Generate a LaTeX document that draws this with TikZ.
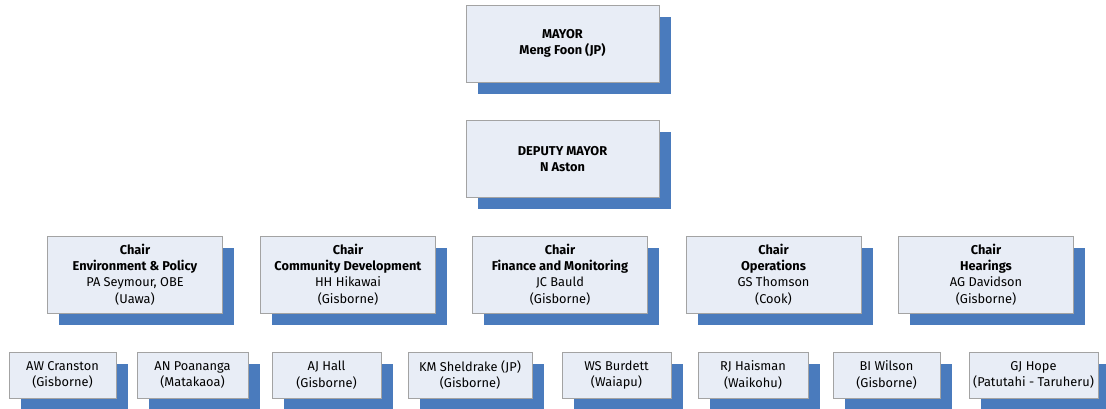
\documentclass[tikz,border=0pt]{standalone}
\usepackage{fontspec}
\setmainfont{Fira Sans}
\usepackage{xcolor}
\usetikzlibrary{shadows}

\definecolor{boxfill}{HTML}{E8EDF6}
\definecolor{boxline}{HTML}{A3A3A3}
\definecolor{shadowblue}{HTML}{4A7BBD}

\tikzset{
	orgbox/.style={draw=boxline, line width=1pt, fill=boxfill, align=center, inner sep=0pt,
		font=\fontsize{12.8}{16.3}\selectfont,
		drop shadow={shadow xshift=11.5pt, shadow yshift=-11.5pt, fill=shadowblue, opacity=1}},
	topbox/.style={orgbox, minimum width=193pt, minimum height=77pt},
	chairbox/.style={orgbox, minimum width=175pt, minimum height=77pt},
	memberbox/.style={orgbox, minimum height=46pt}
}

\begin{document}
\begin{tikzpicture}[x=1pt,y=-1pt]
		\useasboundingbox (0,0) rectangle (1106,408);
		
		% mayor and deputy
		\node [topbox] (mayor) at (562.5,43.5) {\textbf{MAYOR}\\\textbf{Meng Foon (JP)}};
		\node [topbox] (deputy) at (562.5,159) {\textbf{DEPUTY MAYOR}\\\textbf{N Aston}};
		
		% committee chairs
		\node [chairbox] (envchair) at (135,274.5) {\textbf{Chair}\\\textbf{Environment \& Policy}\\PA Seymour, OBE\\(Uawa)};
		\node [chairbox] (commchair) at (348,274.5) {\textbf{Chair}\\\textbf{Community Development}\\HH Hikawai\\(Gisborne)};
		\node [chairbox] (finchair) at (560,274.5) {\textbf{Chair}\\\textbf{Finance and Monitoring}\\JC Bauld\\(Gisborne)};
		\node [chairbox] (opschair) at (773.5,274.5) {\textbf{Chair}\\\textbf{Operations}\\GS Thomson\\(Cook)};
		\node [chairbox] (hearchair) at (986,274.5) {\textbf{Chair}\\\textbf{Hearings}\\AG Davidson\\(Gisborne)};
		
		% councillors
		\node [memberbox, minimum width=107pt] (cranston) at (62.5,375) {AW Cranston\\(Gisborne)};
		\node [memberbox, minimum width=111pt] (poananga) at (192.5,375) {AN Poananga\\(Matakaoa)};
		\node [memberbox, minimum width=109pt] (hall) at (326.5,375) {AJ Hall\\(Gisborne)};
		\node [memberbox, minimum width=124pt] (sheldrake) at (470,375) {KM Sheldrake (JP)\\(Gisborne)};
		\node [memberbox, minimum width=109pt] (burdett) at (616.5,375) {WS Burdett\\(Waiapu)};
		\node [memberbox, minimum width=110pt] (haisman) at (753,375) {RJ Haisman\\(Waikohu)};
		\node [memberbox, minimum width=107pt] (wilson) at (886.5,375) {BI Wilson\\(Gisborne)};
		\node [memberbox, minimum width=129pt] (hope) at (1033.5,375) {GJ Hope\\(Patutahi - Taruheru)};
		
\end{tikzpicture}
\end{document}
